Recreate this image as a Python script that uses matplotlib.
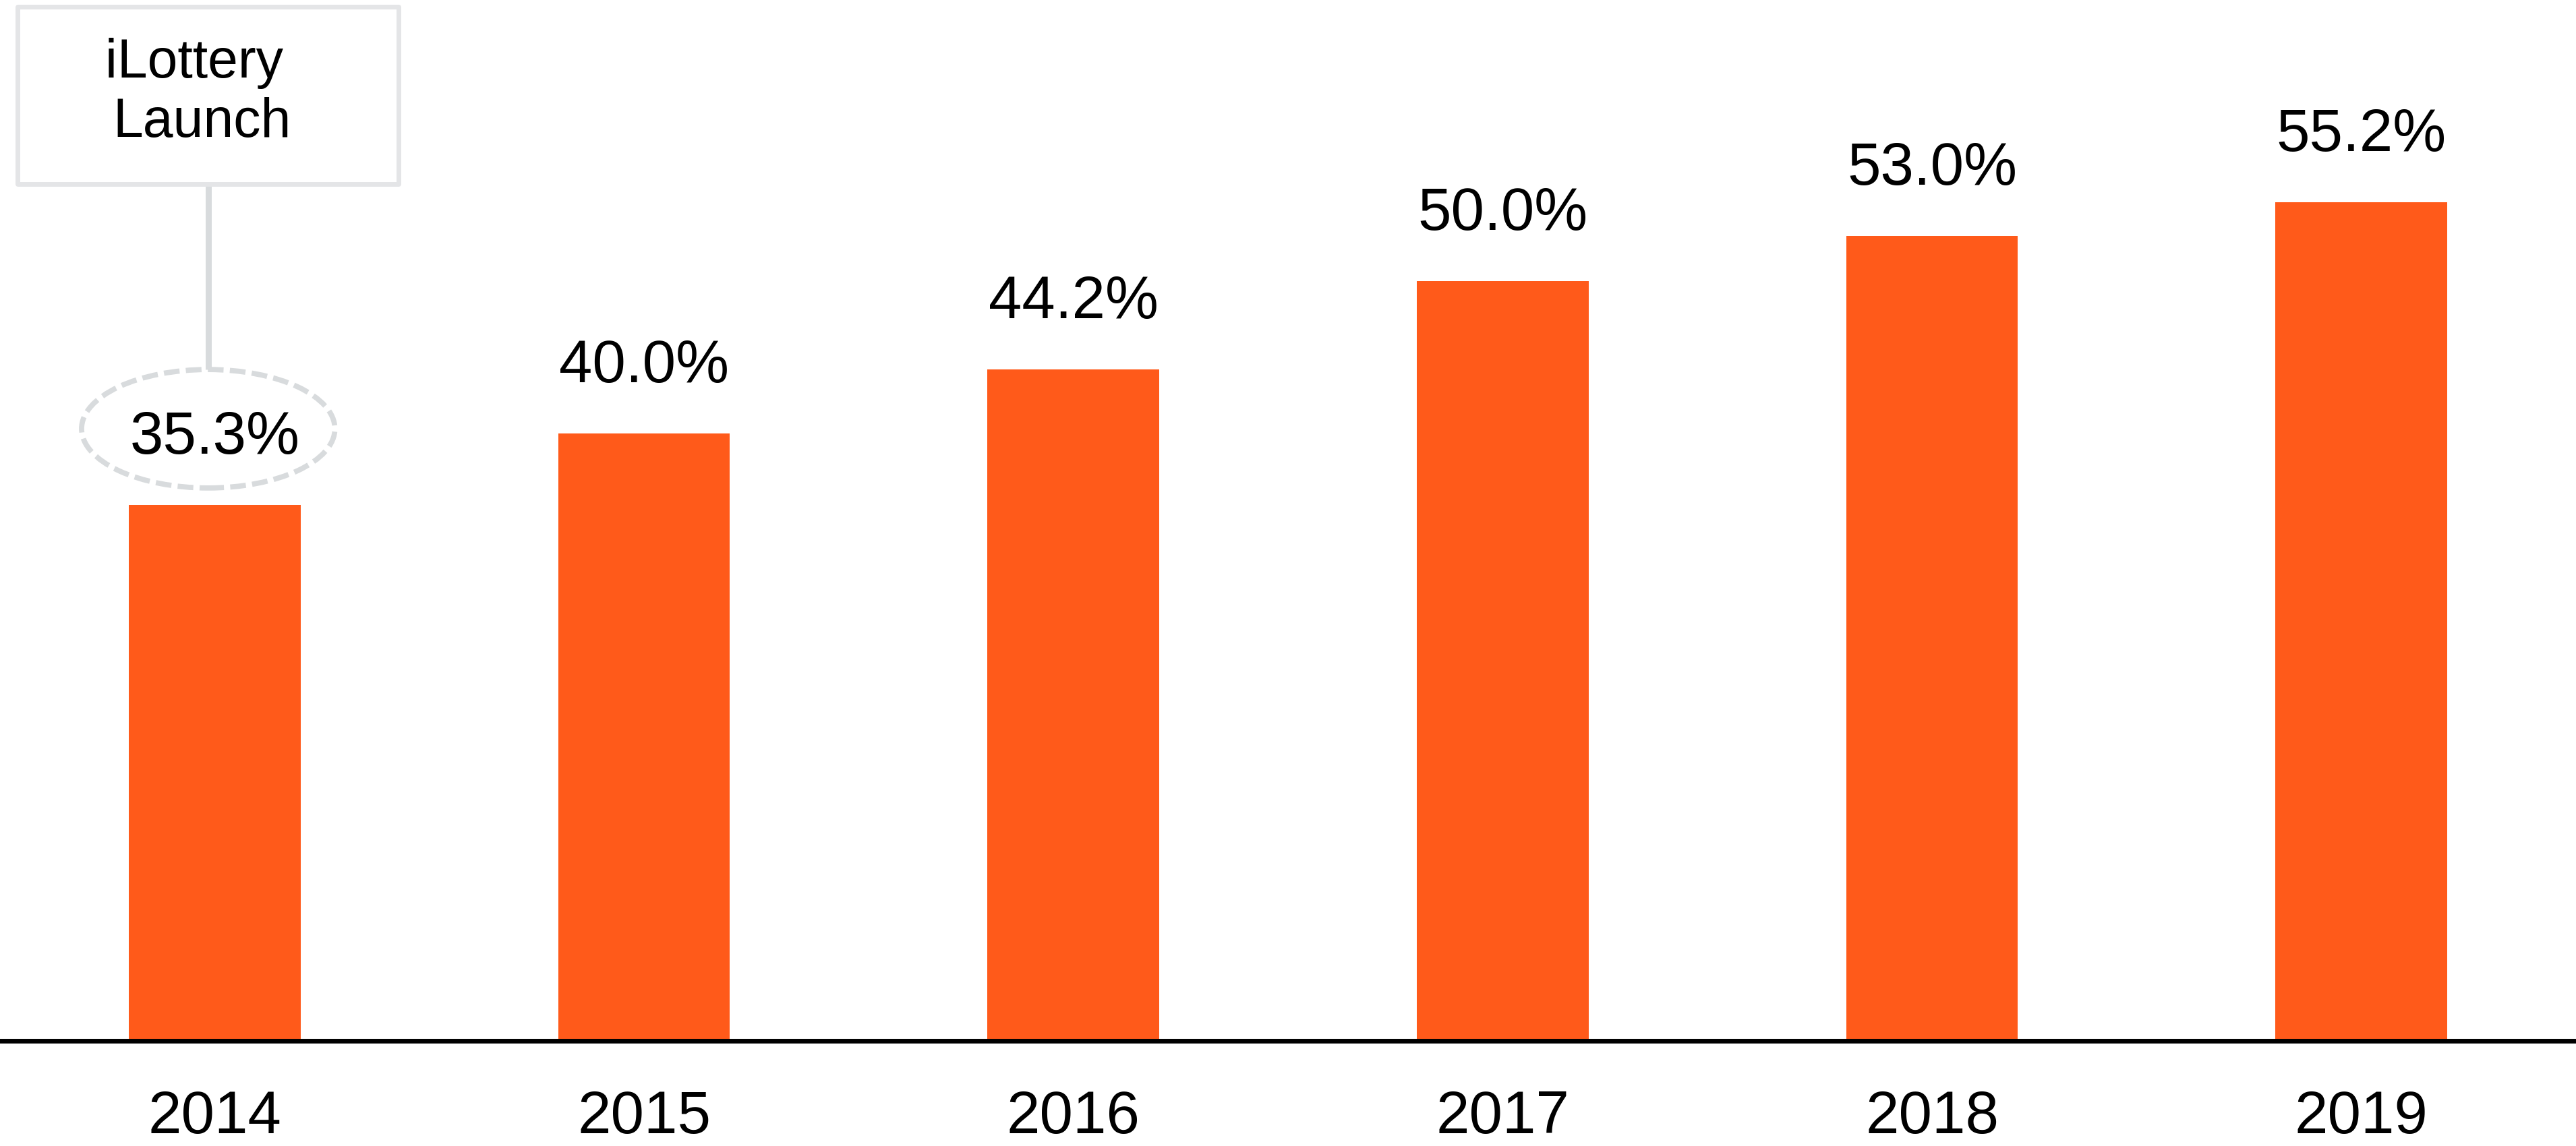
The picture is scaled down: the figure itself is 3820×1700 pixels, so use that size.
import matplotlib
matplotlib.use('Agg')
import matplotlib.pyplot as plt
from matplotlib.patches import Ellipse, Rectangle

# Data
years = ['2014', '2015', '2016', '2017', '2018', '2019']
shares = [35.3, 40.0, 44.2, 50.0, 53.0, 55.2]
labels = ['35.3%', '40.0%', '44.2%', '50.0%', '53.0%', '55.2%']
note_text = 'iLottery \nLaunch'

bar_color = '#ff5a1a'
gray = '#d8dbdd'
box_gray = '#e4e5e7'

plt.rcParams['font.family'] = ['Liberation Sans', 'DejaVu Sans']

fig = plt.figure(figsize=(38.2, 17), dpi=100)
ax = fig.add_axes([0, 0.0918, 1, 0.9082])

x = list(range(len(years)))
ax.bar(x, shares, width=0.4, color=bar_color, zorder=2)

# value labels
for xi, v, lab in zip(x, shares, labels):
    ax.text(xi, v + 4.4, lab, ha='center', va='center', fontsize=64, color='black')

# callout: dashed ellipse round the first label, line and box
ell_y = shares[0] + 5.0
ax.add_patch(Ellipse((-0.015, ell_y), 0.59, 7.8, fill=False,
                     edgecolor=gray, linewidth=5.6, linestyle=(0, (3, 1.2)),
                     clip_on=False, zorder=3))
ax.plot([-0.014, -0.014], [ell_y + 3.9, 56.4], color=gray,
        linewidth=6.5, solid_capstyle='butt', clip_on=False, zorder=3)
ax.add_patch(Rectangle((-0.459, 56.4), 0.888, 11.7, fill=True, facecolor='white',
                       edgecolor=box_gray, linewidth=5, joinstyle='round',
                       clip_on=False, zorder=3))
ax.text(-0.03, 62.4, note_text, ha='center', va='center', fontsize=58,
        linespacing=1.2, multialignment='center', zorder=4)

ax.set_xlim(-0.5, 5.5)
ax.set_ylim(0, 68.53)
ax.set_xticks(x)
ax.set_xticklabels(years, fontsize=64)
ax.tick_params(axis='x', length=0, pad=52)
ax.set_yticks([])
for s in ['top', 'left', 'right']:
    ax.spines[s].set_visible(False)
ax.spines['bottom'].set_linewidth(5)
ax.spines['bottom'].set_zorder(5)

fig.savefig('out.png', dpi=100)
